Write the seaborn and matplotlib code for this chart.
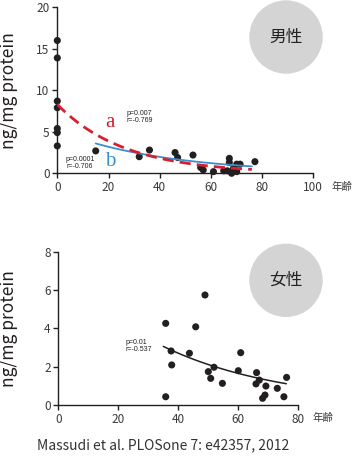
import numpy as np
import pandas as pd
import matplotlib
matplotlib.use("Agg")
import matplotlib.pyplot as plt
from matplotlib.patches import Ellipse
import seaborn as sns

# male data (age, ng/mg protein)
male_age = [0, 0, 0, 0, 0, 0, 0, 15, 32, 36, 46, 47, 53, 56, 57, 61, 65, 66.4,
            67.2, 67.2, 68.1, 68.8, 70.1, 71.4, 70.1, 77.2]
male_val = [16.0, 13.9, 8.7, 7.9, 5.4, 4.9, 3.3, 2.7, 2.0, 2.8, 2.5, 1.9, 2.2, 0.7,
            0.4, 0.2, 0.3, 0.3, 1.8, 1.3, 0.0, 0.6, 1.1, 1.1, 0.2, 1.4]

# female data
female_age = [35.8, 45.8, 37.6, 43.7, 37.8, 35.8, 48.9, 60.8, 50.0, 51.9, 50.8, 54.7,
              60.0, 66.1, 67.0, 65.9, 69.2, 73.0, 76.1, 68.9, 68.1, 75.2]
female_val = [4.26, 4.08, 2.82, 2.70, 2.09, 0.43, 5.74, 2.73, 1.74, 1.97, 1.39, 1.13,
              1.79, 1.69, 1.30, 1.10, 0.99, 0.87, 1.44, 0.52, 0.35, 0.43]

# exponential fit parameters y = a * exp(-k * x), over [x0, x1]
fit_a = (8.3, 0.038, 0, 76)      # red dashed
fit_b = (5.16, 0.024, 15, 76)    # blue
fit_f = (7.26, 0.0247, 35, 76)   # female black

male_xticks = [0, 20, 40, 60, 80, 100]
male_yticks = [0, 5, 10, 15, 20]
female_xticks = [0, 20, 40, 60, 80]
female_yticks = [0, 2, 4, 6, 8]

dark = "#231f20"
tickc = "#3a3a3a"
red = "#d6202f"
blue = "#3a8fcd"
gray = "#d4d4d4"

sns.set_style("ticks")
plt.rcParams['font.family'] = ['Noto Sans CJK JP', 'DejaVu Sans']
plt.rcParams['axes.edgecolor'] = dark
plt.rcParams['axes.linewidth'] = 1.0


def fit_frame(p):
    a, k, x0, x1 = p
    xs = np.linspace(x0, x1, 100)
    return pd.DataFrame({"x": xs, "y": a * np.exp(-k * xs)})


W, H = 353, 458
fig = plt.figure(figsize=(W / 100, H / 100), dpi=100)
ax1 = fig.add_axes([57.3 / W, 1 - 173.3 / H, 256 / W, 166 / H])
ax2 = fig.add_axes([58.3 / W, 1 - 405 / H, 240 / W, 153.3 / H])

# gray circles behind
for cy, txt in [(37, "男性"), (280.3, "女性")]:
    fig.add_artist(Ellipse((286 / W, 1 - cy / H), 73.4 / W, 73.4 / H,
                           transform=fig.transFigure, color=gray, lw=0, zorder=0))
    fig.text(286 / W, 1 - cy / H, txt, ha="center", va="center",
             fontsize=12, color="#222222", zorder=1)

for ax in (ax1, ax2):
    ax.set_facecolor("none")
    sns.despine(ax=ax)
    ax.tick_params(direction="out", length=3.5, width=1, color=dark,
                   labelsize=8.5, labelcolor=tickc, pad=2)

# male panel
df_m = pd.DataFrame({"age": male_age, "val": male_val})
sns.scatterplot(data=df_m, x="age", y="val", ax=ax1, color=dark, s=26,
                edgecolor="none", clip_on=False, zorder=3)
fa = fit_frame(fit_a)
fb = fit_frame(fit_b)
sns.lineplot(data=fb, x="x", y="y", ax=ax1, color=blue, lw=1.3, zorder=4)
sns.lineplot(data=fa, x="x", y="y", ax=ax1, color=red, lw=2.0,
             dashes=False, zorder=5).lines[-1].set_dashes([4, 2.2])
ax1.set_xlim(0, 100)
ax1.set_ylim(0, 20)
ax1.set_xticks(male_xticks)
ax1.set_yticks(male_yticks)
ax1.set_xlabel("")
ax1.set_ylabel("ng/mg protein", fontsize=12.5, color=dark)
ax1.yaxis.set_label_coords(-0.155, 0.5)

ax1.text(27.2, 6.8, "p=0.007\nr=-0.769", fontsize=5, family="Liberation Sans",
         va="center", ha="left", linespacing=1.0, color=dark)
ax1.text(3.4, 1.2, "p=0.0001\nr=-0.706", fontsize=5, family="Liberation Sans",
         va="center", ha="left", linespacing=1.0, color=dark)
ax1.text(20.6, 6.1, "a", fontsize=15, family="Liberation Serif", color=red,
         ha="center", va="center")
ax1.text(20.6, 1.4, "b", fontsize=15, family="Liberation Serif", color=blue,
         ha="center", va="center")

# female panel
df_f = pd.DataFrame({"age": female_age, "val": female_val})
sns.scatterplot(data=df_f, x="age", y="val", ax=ax2, color=dark, s=26,
                edgecolor="none", clip_on=False, zorder=3)
ff = fit_frame(fit_f)
sns.lineplot(data=ff, x="x", y="y", ax=ax2, color=dark, lw=1.1, zorder=4)
ax2.set_xlim(0, 80)
ax2.set_ylim(0, 8)
ax2.set_xticks(female_xticks)
ax2.set_yticks(female_yticks)
ax2.set_xlabel("")
ax2.set_ylabel("ng/mg protein", fontsize=12.5, color=dark)
ax2.yaxis.set_label_coords(-0.168, 0.5)
ax2.text(22.3, 3.1, "p=0.01\nr=-0.537", fontsize=5, family="Liberation Sans",
         va="center", ha="left", linespacing=1.0, color=dark)

fig.text(332 / W, 1 - 187 / H, "年齢", fontsize=7.5, color=tickc, va="center")
fig.text(312.7 / W, 1 - 418 / H, "年齢", fontsize=7.5, color=tickc, va="center")

fig.text(163 / W, 1 - 445 / H, "Massudi et al. PLOSone 7: e42357, 2012",
         fontsize=10, color="#333333", ha="center", va="center")

fig.savefig("out.png", dpi=100)
